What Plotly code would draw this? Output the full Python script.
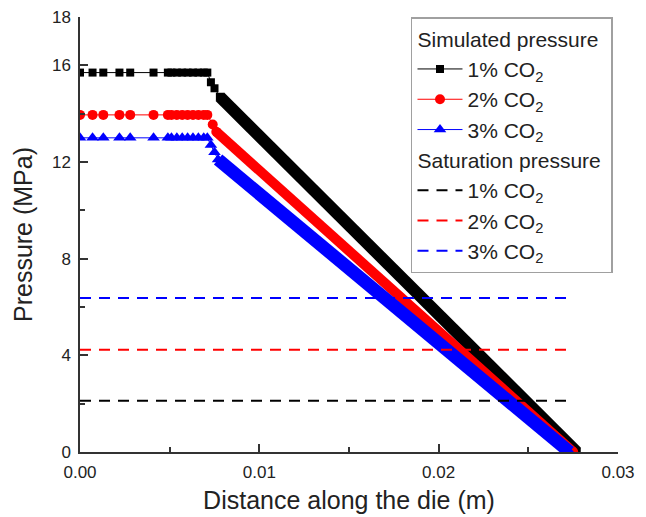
import plotly.graph_objects as go

# ---- data ----
flat_x = [0.0000, 0.0007, 0.0013, 0.0022, 0.0028, 0.0041, 0.0049, 0.0051,
          0.0054, 0.0057, 0.0060, 0.0063, 0.0066, 0.0069, 0.0071]

sim1_x = flat_x + [0.0073, 0.0075, 0.0078, 0.0277]
sim1_y = [15.7] * len(flat_x) + [15.3, 15.05, 14.7, 0.0]

sim2_x = flat_x + [0.0074, 0.0076, 0.0275]
sim2_y = [13.95] * len(flat_x) + [13.55, 13.25, 0.0]

sim3_x = flat_x + [0.0073, 0.0075, 0.0077, 0.0273]
sim3_y = [13.0] * len(flat_x) + [12.7, 12.4, 12.1, 0.0]

# index where the steep (densely sampled) section starts
slope_start = [len(flat_x) + 2, len(flat_x) + 1, len(flat_x) + 2]

sat_x = [0.0, 0.0274]
sat_values = [2.12, 4.23, 6.37]

labels = ["1% CO<sub>2</sub>", "2% CO<sub>2</sub>", "3% CO<sub>2</sub>"]
colors = ["#000000", "#ff0000", "#0000ff"]
symbols = ["square", "circle", "triangle-up"]
msizes = [8, 10, 11]
band_w = [12, 10, 13]

x_ticks = [0.0, 0.01, 0.02, 0.03]
x_ticklabels = ["0.00", "0.01", "0.02", "0.03"]
x_minor = [0.005, 0.015, 0.025]
y_ticks = [0, 4, 8, 12, 16, 18]
y_minor = [2, 6, 10, 14]

FONT = "Liberation Sans, Arial, sans-serif"

fig = go.Figure()

sims = [(sim1_x, sim1_y), (sim2_x, sim2_y), (sim3_x, sim3_y)]
for i, (xs, ys) in enumerate(sims):
    fig.add_trace(go.Scatter(
        x=xs, y=ys, mode="lines+markers", name=labels[i],
        legendgroup="sim",
        legendgrouptitle=dict(text="Simulated pressure") if i == 0 else None,
        line=dict(color=colors[i], width=1),
        marker=dict(symbol=symbols[i], size=msizes[i], color=colors[i]),
    ))
    s = slope_start[i]
    fig.add_trace(go.Scatter(
        x=xs[s:], y=ys[s:], mode="lines", showlegend=False,
        hoverinfo="skip",
        line=dict(color=colors[i], width=band_w[i]),
    ))

for i, v in enumerate(sat_values):
    fig.add_trace(go.Scatter(
        x=sat_x, y=[v, v], mode="lines", name=labels[i],
        legendgroup="sat",
        legendgrouptitle=dict(text="Saturation pressure") if i == 0 else None,
        line=dict(color=colors[i], width=2, dash="11px,8px"),
    ))

fig.update_layout(
    width=646, height=517,
    margin=dict(l=80, r=28, t=17, b=65),
    paper_bgcolor="white", plot_bgcolor="white",
    font=dict(family=FONT, color="#222222"),
    legend=dict(
        x=0.9907, xanchor="right", y=1.0, yanchor="top",
        bgcolor="white", bordercolor="#a0a0a0", borderwidth=1.5,
        font=dict(family=FONT, size=21, color="#222222"),
        grouptitlefont=dict(family=FONT, size=21, color="#222222"),
        traceorder="grouped", tracegroupgap=0, itemwidth=45,
    ),
)

fig.update_xaxes(
    range=[0, 0.03], tickvals=x_ticks, ticktext=x_ticklabels,
    automargin=False,
    ticks="inside", ticklen=8, tickwidth=1.5, tickcolor="#333333",
    showline=True, linecolor="#333333", linewidth=1.5, mirror=False,
    showgrid=False, zeroline=False,
    tickfont=dict(family=FONT, size=17, color="#222222"),
    ticklabelstandoff=4,
    minor=dict(tickvals=x_minor, ticks="inside", ticklen=5, tickwidth=1.5,
               tickcolor="#333333", showgrid=False),
    title=dict(text="Distance along the die (m)", standoff=10,
               font=dict(family=FONT, size=25, color="#222222")),
)
fig.update_yaxes(
    range=[0, 18], tickvals=y_ticks,
    automargin=False,
    ticks="inside", ticklen=8, tickwidth=1.5, tickcolor="#333333",
    showline=True, linecolor="#333333", linewidth=1.5, mirror=False,
    showgrid=False, zeroline=False,
    tickfont=dict(family=FONT, size=17, color="#222222"),
    ticklabelstandoff=4,
    minor=dict(tickvals=y_minor, ticks="inside", ticklen=5, tickwidth=1.5,
               tickcolor="#333333", showgrid=False),
    title=dict(text="Pressure (MPa)", standoff=12,
               font=dict(family=FONT, size=25, color="#222222")),
)

fig.write_html("out.html")
